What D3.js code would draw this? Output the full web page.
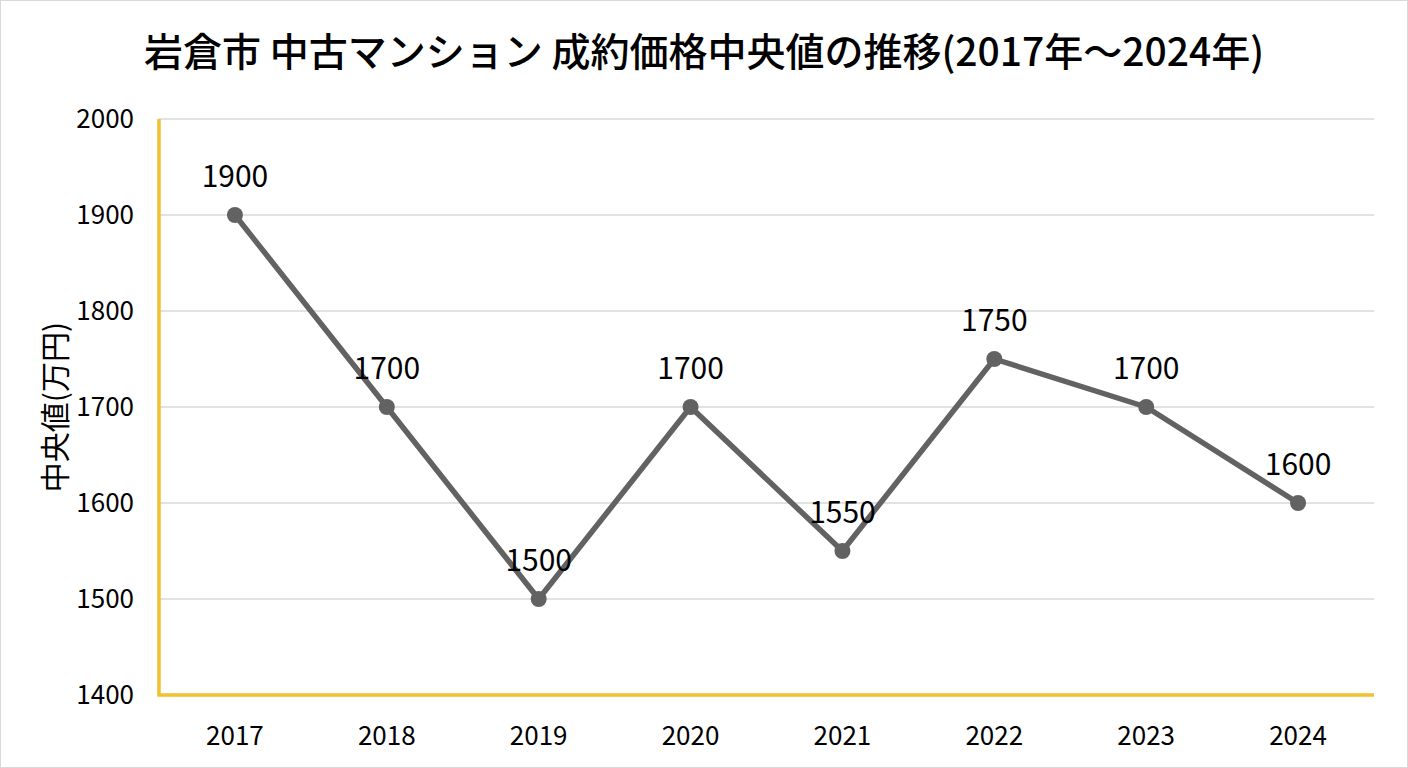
<!DOCTYPE html>
<html>
<head>
<meta charset="utf-8">
<script src="https://cdn.jsdelivr.net/npm/d3@7"></script>
<style>
  body { margin: 0; background: #fff; }
  svg { display: block; font-family: "Noto Sans CJK JP", "Noto Sans", sans-serif; }
</style>
</head>
<body>
<script>
const years = ["2017", "2018", "2019", "2020", "2021", "2022", "2023", "2024"];
const medians = [1900, 1700, 1500, 1700, 1550, 1750, 1700, 1600];
const yTicks = [1400, 1500, 1600, 1700, 1800, 1900, 2000];
const titleText = "岩倉市 中古マンション 成約価格中央値の推移(2017年～2024年)";
const yTitle = "中央値(万円)";

const options = {
    width: 1408,
    height: 768,
}

const plot = { left: 159, right: 1374, top: 119, bottom: 695 };

let svg = d3.select("body")
    .append("svg")
    .attr("width", options.width)
    .attr("height", options.height)

// frame
svg.append("rect")
    .attr("x", 0.5).attr("y", 0.5)
    .attr("width", options.width - 1).attr("height", options.height - 1)
    .attr("fill", "#fff")
    .attr("stroke", "#d9d9d9")

const x = d3.scalePoint()
    .domain(years)
    .range([plot.left, plot.right])
    .padding(0.5);

const y = d3.scaleLinear()
    .domain([1400, 2000])
    .range([plot.bottom, plot.top]);

// gridlines
svg.append("g")
    .selectAll("line")
    .data(yTicks.filter(d => d > 1400))
    .enter()
    .append("line")
    .attr("x1", plot.left).attr("x2", plot.right)
    .attr("y1", d => y(d)).attr("y2", d => y(d))
    .attr("stroke", "#d9d9d9")
    .attr("stroke-width", 1.5)

// y tick labels
svg.append("g")
    .selectAll("text")
    .data(yTicks)
    .enter()
    .append("text")
    .attr("x", 134)
    .attr("y", d => y(d))
    .attr("dy", "0.35em")
    .attr("text-anchor", "end")
    .attr("font-size", 26)
    .attr("fill", "#000")
    .text(d => d)

// x tick labels
svg.append("g")
    .selectAll("text")
    .data(years)
    .enter()
    .append("text")
    .attr("x", d => x(d))
    .attr("y", 745)
    .attr("text-anchor", "middle")
    .attr("font-size", 26)
    .attr("fill", "#000")
    .text(d => d)

// axes (yellow)
svg.append("path")
    .attr("d", `M${plot.left},${plot.top}V${plot.bottom}H${plot.right}`)
    .attr("fill", "none")
    .attr("stroke", "#f2c12e")
    .attr("stroke-width", 3.5)

// line
const line = d3.line()
    .x((d, i) => x(years[i]))
    .y(d => y(d));

svg.append("path")
    .datum(medians)
    .attr("d", line)
    .attr("fill", "none")
    .attr("stroke", "#626262")
    .attr("stroke-width", 5.5)
    .attr("stroke-linejoin", "round")

svg.append("g")
    .selectAll("circle")
    .data(medians)
    .enter()
    .append("circle")
    .attr("cx", (d, i) => x(years[i]))
    .attr("cy", d => y(d))
    .attr("r", 8)
    .attr("fill", "#626262")

// data labels
svg.append("g")
    .selectAll("text")
    .data(medians)
    .enter()
    .append("text")
    .attr("x", (d, i) => x(years[i]))
    .attr("y", d => y(d) - 28)
    .attr("text-anchor", "middle")
    .attr("font-size", 30)
    .attr("fill", "#000")
    .text(d => d)

// y axis title
svg.append("text")
    .attr("transform", `translate(66,407) rotate(-90)`)
    .attr("text-anchor", "middle")
    .attr("font-size", 30)
    .attr("fill", "#000")
    .text(yTitle)

// title
svg.append("text")
    .attr("x", 704)
    .attr("y", 66)
    .attr("text-anchor", "middle")
    .attr("font-size", 39)
    .attr("font-weight", 500)
    .attr("fill", "#000")
    .text(titleText)
</script>
</body>
</html>
